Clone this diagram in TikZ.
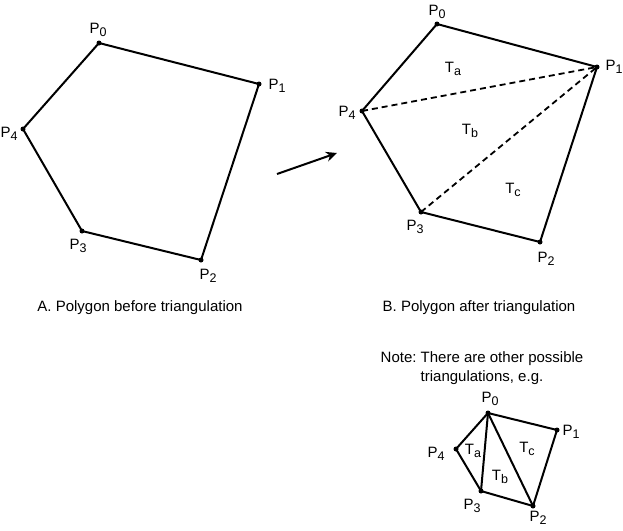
\documentclass[tikz,border=0pt]{standalone}
\usepackage{fontspec}
\setmainfont{Liberation Sans}
\usetikzlibrary{arrows.meta}
\frenchspacing
\newcommand\plab[2]{#1\raisebox{-3pt}{\fontsize{12.5}{13}\selectfont #2}}
\tikzset{
  vdot/.style={circle,fill=black,inner sep=0pt,minimum size=5pt},
  edge/.style={line width=2pt,line join=round},
  diag/.style={line width=1.8pt,dash pattern=on 6pt off 4pt},
  lab/.style={inner sep=0pt,font=\fontsize{15}{17}\selectfont},
  captext/.style={inner sep=0pt,font=\fontsize{15}{18.5}\selectfont,align=center},
}
\begin{document}
\begin{tikzpicture}[x=1pt,y=-1pt]
\useasboundingbox (0,0) rectangle (623,530);
% --- A: polygon before triangulation
\node[vdot] (a0) at (99,43) {};
\node[vdot] (a1) at (259,84) {};
\node[vdot] (a2) at (201,260) {};
\node[vdot] (a3) at (82,231) {};
\node[vdot] (a4) at (23,129) {};
\draw[edge] (a0.center) -- (a1.center) -- (a2.center) -- (a3.center) -- (a4.center) -- cycle;
\node[lab] (la0) at (98,30) {\plab{P}{0}};
\node[lab] (la1) at (277,86) {\plab{P}{1}};
\node[lab] (la2) at (208,276) {\plab{P}{2}};
\node[lab] (la3) at (78,246) {\plab{P}{3}};
\node[lab] (la4) at (9,134) {\plab{P}{4}};
\node[captext] (capA) at (140,308) {A. Polygon before triangulation};
% --- arrow
\coordinate (arS) at (277,174);
\coordinate (arE) at (337,153);
\draw[line width=2pt,-{Stealth[length=11pt,width=10pt]}] (arS) -- (arE);
% --- B: polygon after triangulation
\node[vdot] (b0) at (437,24) {};
\node[vdot] (b1) at (597,67) {};
\node[vdot] (b2) at (540,242) {};
\node[vdot] (b3) at (421,212) {};
\node[vdot] (b4) at (362,111) {};
\draw[edge] (b0.center) -- (b1.center) -- (b2.center) -- (b3.center) -- (b4.center) -- cycle;
\draw[diag] (b4.center) -- (b1.center);
\draw[diag] (b3.center) -- (b1.center);
\node[lab] (lb0) at (437,12) {\plab{P}{0}};
\node[lab] (lb1) at (614,67) {\plab{P}{1}};
\node[lab] (lb2) at (546,259) {\plab{P}{2}};
\node[lab] (lb3) at (415,227) {\plab{P}{3}};
\node[lab] (lb4) at (347,113) {\plab{P}{4}};
\node[lab] (tba) at (453,69) {\plab{T}{a}};
\node[lab] (tbb) at (470,131) {\plab{T}{b}};
\node[lab] (tbc) at (513,190) {\plab{T}{c}};
\node[captext] (capB) at (479,308) {B. Polygon after triangulation};
\node[captext] (note) at (482,368) {Note: There are other possible\\triangulations, e.g.};
% --- C: alternative triangulation
\node[vdot] (c0) at (488,413) {};
\node[vdot] (c1) at (557,430) {};
\node[vdot] (c2) at (533,506) {};
\node[vdot] (c3) at (481,491) {};
\node[vdot] (c4) at (456,449) {};
\draw[edge] (c0.center) -- (c1.center) -- (c2.center) -- (c3.center) -- (c4.center) -- cycle;
\draw[edge] (c0.center) -- (c3.center);
\draw[edge] (c0.center) -- (c2.center);
\node[lab] (lc0) at (490,399) {\plab{P}{0}};
\node[lab] (lc1) at (571,432) {\plab{P}{1}};
\node[lab] (lc2) at (538,518) {\plab{P}{2}};
\node[lab] (lc3) at (472,506) {\plab{P}{3}};
\node[lab] (lc4) at (436,454) {\plab{P}{4}};
\node[lab] (tca) at (473,451) {\plab{T}{a}};
\node[lab] (tcb) at (500,477) {\plab{T}{b}};
\node[lab] (tcc) at (527,449) {\plab{T}{c}};
\end{tikzpicture}
\end{document}
